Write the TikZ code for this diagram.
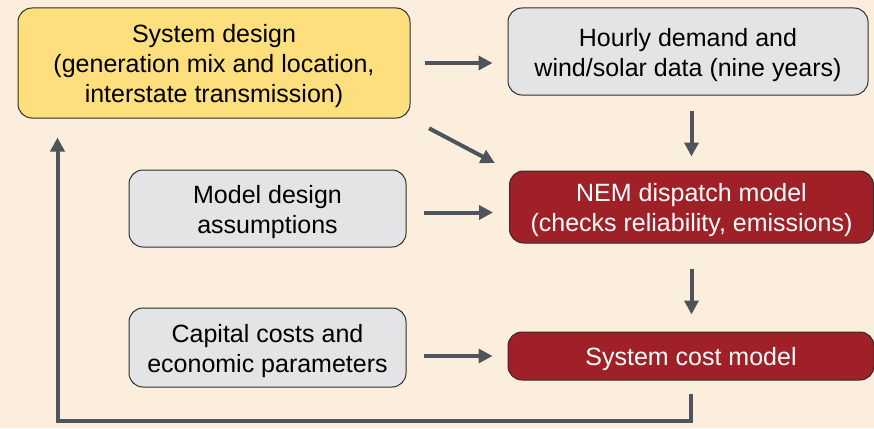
\documentclass[tikz,border=0pt]{standalone}
\usepackage{fontspec}
\setmainfont{Liberation Sans}
\usetikzlibrary{arrows.meta,calc}
\definecolor{bgc}{HTML}{FCEEDD}
\definecolor{yel}{HTML}{FDDF7E}
\definecolor{gry}{HTML}{E3E4E6}
\definecolor{redc}{HTML}{A02027}
\definecolor{arr}{HTML}{4D545B}
\definecolor{edge}{HTML}{2E2E2E}
\tikzset{
  box/.style={draw=edge, line width=1pt, rounded corners=14pt, inner sep=0pt},
  ybox/.style={box, fill=yel},
  gbox/.style={box, fill=gry},
  rbox/.style={box, fill=redc},
  txt/.style={align=center, font=\fontsize{25}{30}\selectfont, inner sep=0pt},
  wtxt/.style={txt, text=white},
  arrline/.style={draw=arr, line width=4pt, -{Triangle[length=14pt,width=14pt]}},
}
\begin{document}
\begin{tikzpicture}[x=1pt,y=1pt]
\fill[bgc] (0,0) rectangle (874,-428);
\useasboundingbox (0,0) rectangle (874,-428);
\node[ybox, minimum width=392pt, minimum height=110pt] (sys) at (214,-63) {};
\node[txt] (sysT) at ([yshift=-3.5pt]sys.center)
  {System design\\(generation mix and location,\\interstate transmission)};
\node[gbox, minimum width=360pt, minimum height=87pt] (hour) at (688,-51.5) {};
\node[txt] (hourT) at ([yshift=-3.5pt]hour.center)
  {Hourly demand and\\wind/solar data (nine years)};
\node[gbox, minimum width=277pt, minimum height=77pt] (model) at (267.5,-208.5) {};
\node[txt] (modelT) at ([yshift=-3.5pt]model.center)
  {Model design\\assumptions};
\node[rbox, minimum width=364pt, minimum height=72pt] (nem) at (691.5,-207) {};
\node[wtxt] (nemT) at ([yshift=-3.5pt]nem.center)
  {NEM dispatch model\\(checks reliability, emissions)};
\node[gbox, minimum width=277pt, minimum height=79pt] (cap) at (267.5,-347.5) {};
\node[txt] (capT) at ([yshift=-3.5pt]cap.center)
  {Capital costs and\\economic parameters};
\node[rbox, minimum width=366pt, minimum height=48pt] (cost) at (691,-356) {};
\node[wtxt] (costT) at ([yshift=-3pt]cost.center) {System cost model};
% arrows
\draw[arrline, shorten <=14pt, shorten >=15pt] (sys.east) -- (sys.east -| hour.west);
\draw[arrline, shorten <=21pt, shorten >=16pt] (sys.south east) -- (nem.north west);
\draw[arrline, shorten <=17pt, shorten >=16pt] ([yshift=-4pt]model.east) -- ([yshift=-4pt]model.east -| nem.west);
\draw[arrline, shorten <=15pt, shorten >=14pt] (nem.north |- hour.south) -- (nem.north);
\draw[arrline, shorten <=25pt, shorten >=17pt] (nem.south) -- (nem.south |- cost.north);
\draw[arrline, shorten <=17pt, shorten >=15pt] (cap.east |- cost.west) -- (cost.west);
\coordinate (fb) at ([xshift=40pt,yshift=-19pt]sys.south west);
\draw[arrline, rounded corners=0pt] ([yshift=-13pt]cost.south) -- ++(0,-27) -| (fb);
\end{tikzpicture}
\end{document}
